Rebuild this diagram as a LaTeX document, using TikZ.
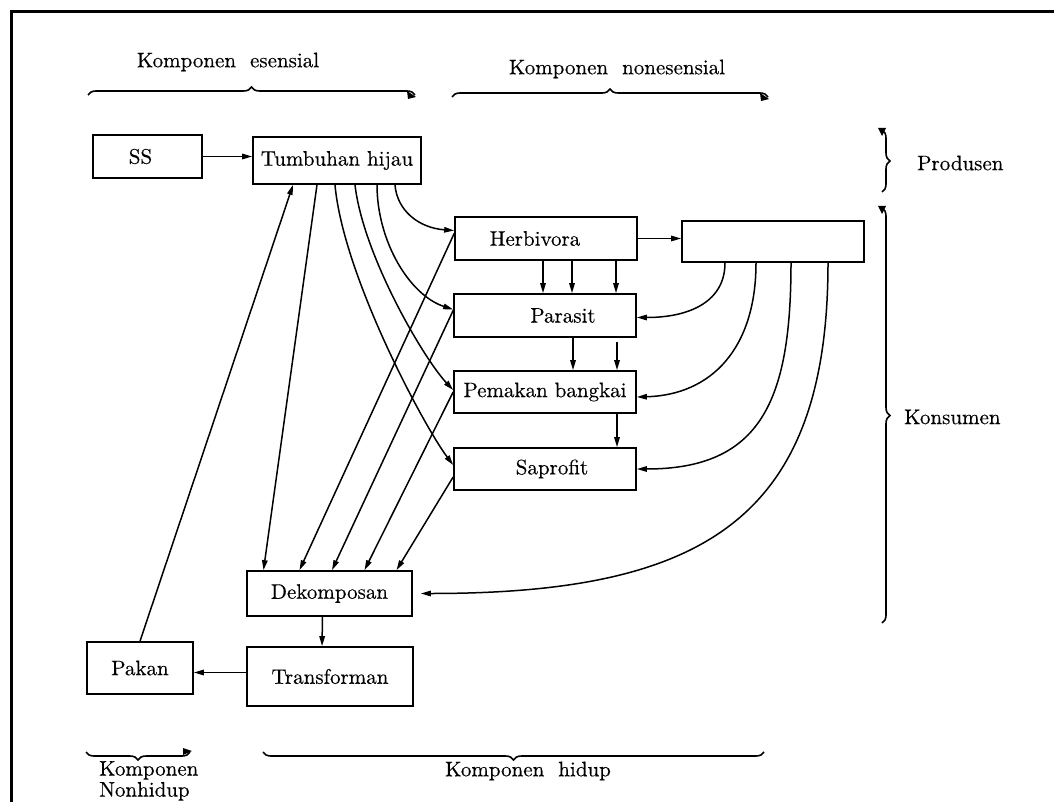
\documentclass[tikz,border=0pt]{standalone}
\usepackage{fontspec}
\setmainfont{lmroman10-regular.otf}[FakeBold=0.3]
\usetikzlibrary{arrows.meta,decorations.pathreplacing}
\begin{document}
\begin{tikzpicture}[x=1pt,y=-1pt,
  box/.style={draw, line width=1.7pt, inner sep=0pt, font=\fontsize{21}{25}\selectfont},
  lbl/.style={inner sep=0pt, font=\fontsize{21}{21}\selectfont},
  con/.style={line width=1.5pt, -{Triangle[length=10pt,width=5.5pt]}},
  br/.style={line width=1.6pt, decorate, decoration={brace, amplitude=8pt, aspect=0.5}},
  hook/.style={fill=black}
]
\useasboundingbox (0,0) rectangle (1054,802);
% frame
\draw[line width=3.5pt] (1054,11.5) -- (11.5,11.5) -- (11.5,802);

% boxes
\node[box,minimum width=109pt,minimum height=43pt] (ss) at (147.5,156.5) {SS\hspace*{14pt}};
\node[box,minimum width=168pt,minimum height=47pt] (th) at (337,160.5) {Tumbuhan hijau};
\node[box,minimum width=182pt,minimum height=43pt] (hb) at (546,238.5) {Herbivora\hspace*{22pt}};
\node[box,minimum width=182pt,minimum height=41pt] (kb) at (773,241.5) {};
\node[box,minimum width=182pt,minimum height=43pt] (pr) at (545,315.5) {\hspace*{36pt}Parasit};
\node[box,minimum width=182pt,minimum height=42pt] (pb) at (545,392) {Pemakan\ bangkai};
\node[box,minimum width=182pt,minimum height=42pt] (sp) at (545,469) {\hspace*{14pt}Saprofit};
\node[box,minimum width=165pt,minimum height=45pt] (dk) at (329.5,593.5) {Dekomposan};
\node[box,minimum width=166pt,minimum height=59pt] (tf) at (330,676.5) {Transforman};
\node[box,minimum width=106pt,minimum height=52pt] (pk) at (140,668) {Pakan};

% connectors from the producer
\draw[con] (ss.east) -- (ss.east -| th.west);
\draw[con] ([shift={(58,0)}]th.south) .. controls +(2,26) and +(-35,-2.5) .. ([shift={(0,-8)}]hb.west);
\draw[con] ([shift={(40,0)}]th.south) .. controls +(0,56) and +(-44,-14.5) .. ([shift={(0,-6)}]pr.west);
\draw[con] ([shift={(18,0)}]th.south) .. controls +(8,70) and +(-30,-32) .. ([shift={(0,-2)}]pb.west);
\draw[con] ([shift={(-2,0)}]th.south) .. controls +(8,90) and +(-30,-40) .. ([shift={(0,-4)}]sp.west);
\draw[con] ([shift={(-20,0)}]th.south) -- ([shift={(-66,0)}]dk.north);
\draw[con] (pk.north) -- ([shift={(-44,0)}]th.south);

% consumers to decomposer
\draw[con] ([shift={(0,-5)}]hb.west) -- ([shift={(-30,0)}]dk.north);
\draw[con] ([shift={(0,-5)}]pr.west) -- ([shift={(2.5,0)}]dk.north);
\draw[con] (pb.west) -- ([shift={(35,0)}]dk.north);
\draw[con] ([shift={(0,8)}]sp.west) -- ([shift={(67,0)}]dk.north);

% herbivore chain
\draw[con] (hb.east) -- (hb.east -| kb.west);
\draw[con] ([shift={(-3,0)}]hb.south) -- ([shift={(-2,0)}]pr.north);
\draw[con] ([shift={(26,0)}]hb.south) -- ([shift={(27,0)}]pr.north);
\draw[con] ([shift={(70,0)}]hb.south) -- ([shift={(71,0)}]pr.north);
\draw[con] ([shift={(28,0)}]pr.south) -- ([shift={(28,0)}]pb.north);
\draw[con] ([shift={(72,4)}]pr.south) -- ([shift={(72,0)}]pb.north);
\draw[con] ([shift={(72,0)}]pb.south) -- ([shift={(72,0)}]sp.north);

% higher consumer curves
\draw[con] ([shift={(-48,0)}]kb.south) .. controls +(0,38) and +(54,0) .. ([shift={(0,2)}]pr.east);
\draw[con] ([shift={(-17,0)}]kb.south) .. controls +(0,85) and +(75,-2) .. ([shift={(0,5)}]pb.east);
\draw[con] ([shift={(18,0)}]kb.south) .. controls +(0,138) and +(124,0) .. (sp.east);
\draw[con] ([shift={(55,0)}]kb.south) .. controls +(0,258) and +(280,0) .. ([shift={(8,0)}]dk.east);

% decomposer chain
\draw[con] ([shift={(-7,0)}]dk.south) -- ([shift={(-8,0)}]tf.north);
\draw[con] ([shift={(0,-4)}]tf.west) -- ([shift={(0,-4)}]tf.west -| pk.east);

% braces and their labels
\node[lbl] (kes) at (228,62) {Komponen\ \ esensial};
\draw[br] (88,95) -- (415,95);
\fill[hook] (407,91) -- (416,97) -- (408,99) -- cycle;

\node[lbl] (knes) at (617,69) {Komponen\ \ nonesensial};
\draw[br] (452,97) -- (768,97);
\fill[hook] (760,93) -- (769,99) -- (761,101) -- cycle;

\node[lbl, anchor=west] (prod) at (917,163) {Produsen};
\draw[br] (882,130) -- (882,192);
\fill[hook] (878,128) -- (886,128) -- (882,136) -- cycle;

\node[lbl, anchor=west] (kons) at (904,417) {Konsumen};
\draw[br] (882,208) -- (882,623);
\fill[hook] (878,206) -- (886,206) -- (882,214) -- cycle;

\draw[br] (190,752) -- (86,752);
\fill[hook] (183,748) -- (192,751) -- (183,755) -- cycle;
\node[lbl, align=left, anchor=north west] (knh) at (99,761) {Komponen\\Nonhidup};

\draw[br] (764,752) -- (263,752);
\node[lbl] (kh) at (528,771) {Komponen\ \ hidup};
\end{tikzpicture}
\end{document}
